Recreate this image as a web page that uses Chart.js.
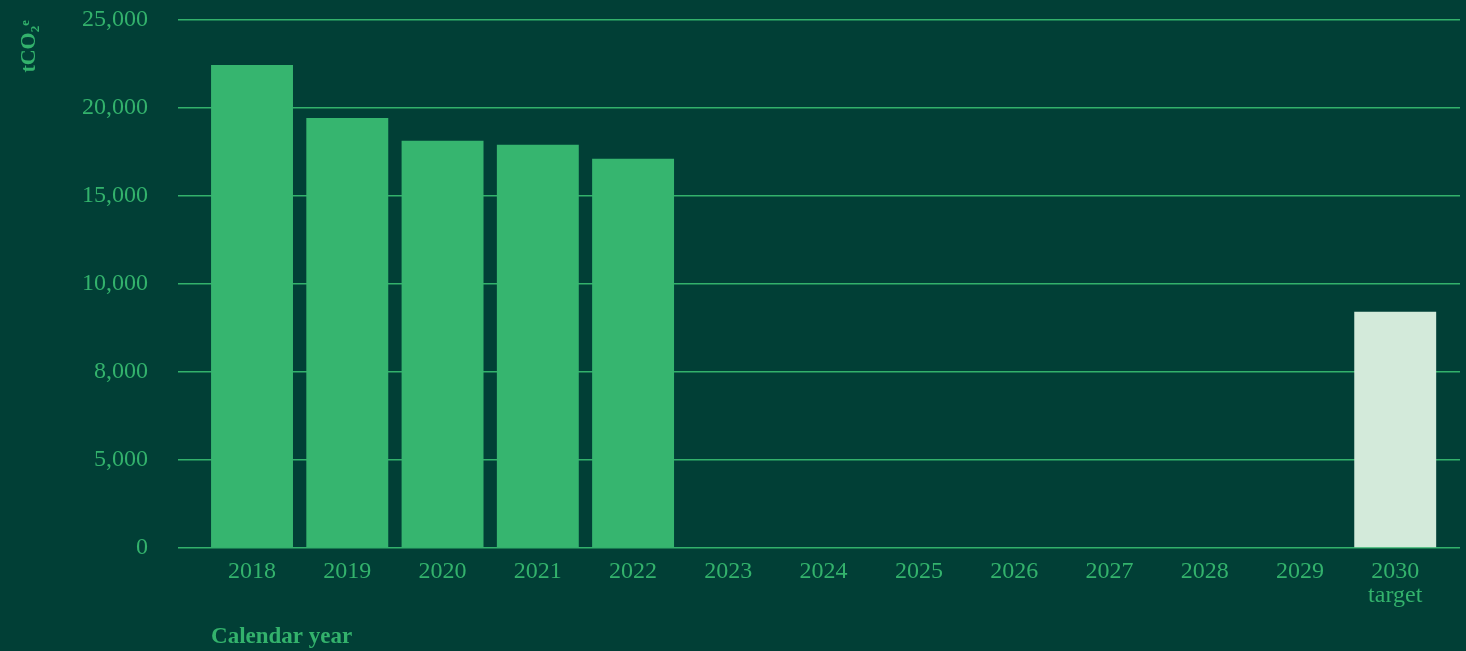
<!DOCTYPE html>
<html lang="en">
  <head>
    <meta charset="UTF-8" />
    <title>Emissions</title>
    <script src="https://cdn.jsdelivr.net/npm/chart.js@4.4.0/dist/chart.umd.min.js"></script>
    <style>
      html, body { margin: 0; padding: 0; background: #013f36; }
      #wrap { width: 1466px; height: 651px; position: relative; }
    </style>
  </head>
  <body>
    <div id="wrap"><canvas id="emissionsChart"></canvas></div>
    <script>
      const years = ["2018", "2019", "2020", "2021", "2022", "2023", "2024", "2025", "2026", "2027", "2028", "2029", "2030"];
      const emissions = [22870, 20360, 19280, 19090, 18430, null, null, null, null, null, null, null, 11190];
      const subLabels = { "2030": "target" };
      const yTickLabels = ["0", "5,000", "8,000", "10,000", "15,000", "20,000", "25,000"];
      const yMax = 25000;

      const green = "#36b56f";
      const pale = "#d3eada";
      const textGreen = "#33b26c";
      const serif = "'Liberation Serif', 'DejaVu Serif', serif";

      const points = [];
      const colors = [];
      years.forEach(function (y, i) {
        if (emissions[i] !== null) {
          points.push({ x: Number(y), y: emissions[i] });
          colors.push(subLabels[y] ? pale : green);
        }
      });

      // draws "Calendar year" lined up with the left edge of the first bar
      const xTitle = {
        id: "xTitle",
        afterDraw(chart) {
          const bar = chart.getDatasetMeta(0).data[0];
          const ctx = chart.ctx;
          ctx.save();
          ctx.font = "bold 23px " + serif;
          ctx.fillStyle = textGreen;
          ctx.textBaseline = "alphabetic";
          ctx.fillText("Calendar year", bar.x - bar.width / 2, 643);
          ctx.restore();
        },
      };

      new Chart(document.getElementById("emissionsChart"), {
        type: "bar",
        data: {
          datasets: [
            {
              data: points,
              backgroundColor: colors,
              borderWidth: 0,
              barPercentage: 0.86,
              categoryPercentage: 1,
            },
          ],
        },
        options: {
          responsive: true,
          maintainAspectRatio: false,
          animation: false,
          layout: { padding: { top: 20, right: 6, bottom: 0, left: 0 } },
          plugins: { legend: { display: false }, tooltip: { enabled: false } },
          scales: {
            x: {
              type: "linear",
              offset: false,
              min: 2017.223,
              max: 2030.68,
              border: { display: false },
              grid: { display: false, drawTicks: false, offset: false },
              afterBuildTicks(scale) {
                scale.ticks = years.map((y) => ({ value: Number(y) }));
              },
              afterFit(scale) {
                scale.height = 103;
              },
              ticks: {
                padding: 12,
                color: textGreen,
                font: { family: serif, size: 24, lineHeight: 1.0 },
                maxRotation: 0,
                autoSkip: false,
                callback: function (value) {
                  const y = String(value);
                  return subLabels[y] ? [y, subLabels[y]] : y;
                },
              },
            },
            y: {
              min: 0,
              max: yMax,
              border: { display: false },
              grid: { color: "#33b16b", lineWidth: 1.4, drawTicks: false },
              afterBuildTicks(scale) {
                scale.ticks = yTickLabels.map((t, i) => ({ value: (yMax / (yTickLabels.length - 1)) * i }));
              },
              afterFit(scale) {
                scale.width = 178;
                scale.paddingTop = 0;
              },
              ticks: {
                padding: 30,
                color: textGreen,
                font: { family: serif, size: 24 },
                callback: function (value, index) {
                  return yTickLabels[index];
                },
              },
              title: {
                display: true,
                text: "tCO₂ᵉ",
                align: "end",
                color: textGreen,
                font: { family: serif, size: 22, weight: "bold" },
                padding: { top: 16, bottom: 0 },
              },
            },
          },
        },
        plugins: [xTitle],
      });
    </script>
  </body>
</html>
